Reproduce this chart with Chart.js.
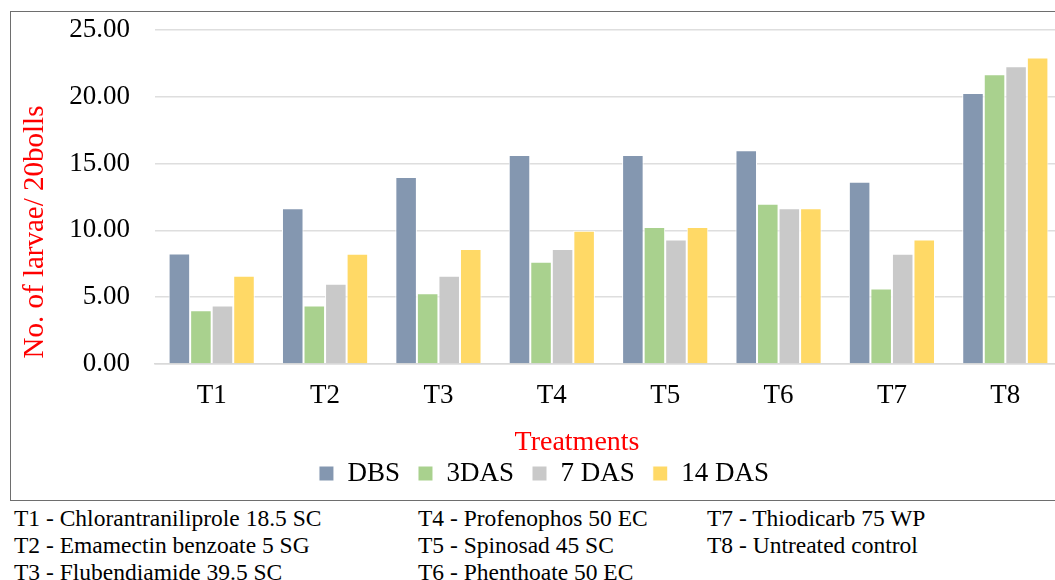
<!DOCTYPE html>
<html>
<head>
<meta charset="utf-8">
<script src="https://cdn.jsdelivr.net/npm/chart.js@4.4.0/dist/chart.umd.min.js"></script>
<style>
  html, body { margin: 0; padding: 0; background: #fff; overflow: hidden; width: 1055px; height: 580px; }
  #wrap { position: absolute; left: 0; top: 0; width: 1070px; height: 500px; }
  #frame { position: absolute; left: 10px; top: 11px; width: 1100px; height: 488px;
           border: 1px solid #6e6e6e; border-right: none; }
  .note { position: absolute; font-family: "Liberation Serif", serif; font-size: 23.5px;
          line-height: 27px; color: #000; white-space: nowrap; }
</style>
</head>
<body>
<div id="frame"></div>
<div id="wrap"><canvas id="larvaeChart" width="1070" height="500"></canvas></div>
<div id="notes"></div>
<script>
  // data
  const treatments = ['T1', 'T2', 'T3', 'T4', 'T5', 'T6', 'T7', 'T8'];
  const seriesNames = ['DBS', '3DAS', '7 DAS', '14 DAS'];
  const dbs   = [8.28, 11.65, 14.00, 15.64, 15.64, 15.99, 13.65, 20.28];
  const das3  = [4.02, 4.37, 5.29, 7.66, 10.25, 12.00, 5.66, 21.68];
  const das7  = [4.37, 6.01, 6.61, 8.61, 9.31, 11.65, 8.26, 22.28];
  const das14 = [6.61, 8.26, 8.61, 9.98, 10.25, 11.65, 9.31, 22.95];
  const yTicks = [0, 5, 10, 15, 20, 25];
  const yTitle = 'No. of larvae/ 20bolls';
  const xTitle = 'Treatments';
  const noteColumns = [
    ['T1 - Chlorantraniliprole 18.5 SC', 'T2 - Emamectin benzoate 5 SG', 'T3 - Flubendiamide 39.5 SC'],
    ['T4 - Profenophos 50 EC', 'T5 - Spinosad 45 SC', 'T6 - Phenthoate 50 EC'],
    ['T7 - Thiodicarb 75 WP', 'T8 - Untreated control']
  ];

  const colors = ['#8497B0', '#A9D18E', '#C9C9C9', '#FFD966'];
  const serif = '"Liberation Serif", "Times New Roman", serif';

  // treatment key under the chart
  const noteX = [14, 418, 707];
  const notes = document.getElementById('notes');
  noteColumns.forEach((col, c) => {
    col.forEach((txt, r) => {
      const d = document.createElement('div');
      d.className = 'note';
      d.style.left = noteX[c] + 'px';
      d.style.top = (505 + r * 27) + 'px';
      d.textContent = txt;
      notes.appendChild(d);
    });
  });

  // red axis titles, placed like the original (centred on the whole frame)
  const axisTitles = {
    id: 'axisTitles',
    afterDraw(chart) {
      const c = chart.ctx;
      c.save();
      c.fillStyle = '#FF0000';
      c.textAlign = 'center';
      c.textBaseline = 'middle';
      c.font = '29px ' + serif;
      c.translate(35, 232);
      c.rotate(-Math.PI / 2);
      c.fillText(yTitle, 0, 0);
      c.restore();
      c.save();
      c.fillStyle = '#FF0000';
      c.textAlign = 'center';
      c.textBaseline = 'middle';
      c.font = '28px ' + serif;
      c.fillText(xTitle, 577, 443);
      c.restore();
    }
  };

  const allSeries = [dbs, das3, das7, das14];
  const ctx = document.getElementById('larvaeChart').getContext('2d');
  new Chart(ctx, {
    type: 'bar',
    data: {
      labels: treatments,
      datasets: allSeries.map((vals, i) => ({
        label: seriesNames[i],
        data: vals,
        backgroundColor: colors[i],
        borderColor: '#ffffff',
        borderWidth: 1,
        barPercentage: 1,
        categoryPercentage: 0.76
      }))
    },
    options: {
      responsive: false,
      animation: false,
      layout: { padding: { left: 26, top: 30, right: 8, bottom: 3 } },
      plugins: {
        tooltip: { enabled: false },
        legend: {
          position: 'bottom',
          labels: {
            boxWidth: 15,
            boxHeight: 15,
            padding: 18,
            color: '#000',
            font: { family: serif, size: 27 }
          }
        }
      },
      scales: {
        x: {
          grid: { display: false, drawTicks: false },
          border: { display: true, color: '#d9d9d9', width: 1.5 },
          ticks: { color: '#000', padding: 16, font: { family: serif, size: 27 } },
          afterFit(scale) { scale.height = 78; }
        },
        y: {
          min: 0,
          max: 25,
          afterBuildTicks(scale) { scale.ticks = yTicks.map(v => ({ value: v })); },
          grid: { color: '#dedede', lineWidth: 1.5, drawTicks: true, tickLength: 13, tickColor: 'rgba(0,0,0,0)' },
          border: { display: false },
          ticks: {
            color: '#000',
            padding: 12,
            font: { family: serif, size: 27, lineHeight: 1 },
            callback: v => Number(v).toFixed(2)
          },
          afterFit(scale) { scale.width = 129; }
        }
      }
    },
    plugins: [axisTitles]
  });
</script>
</body>
</html>
